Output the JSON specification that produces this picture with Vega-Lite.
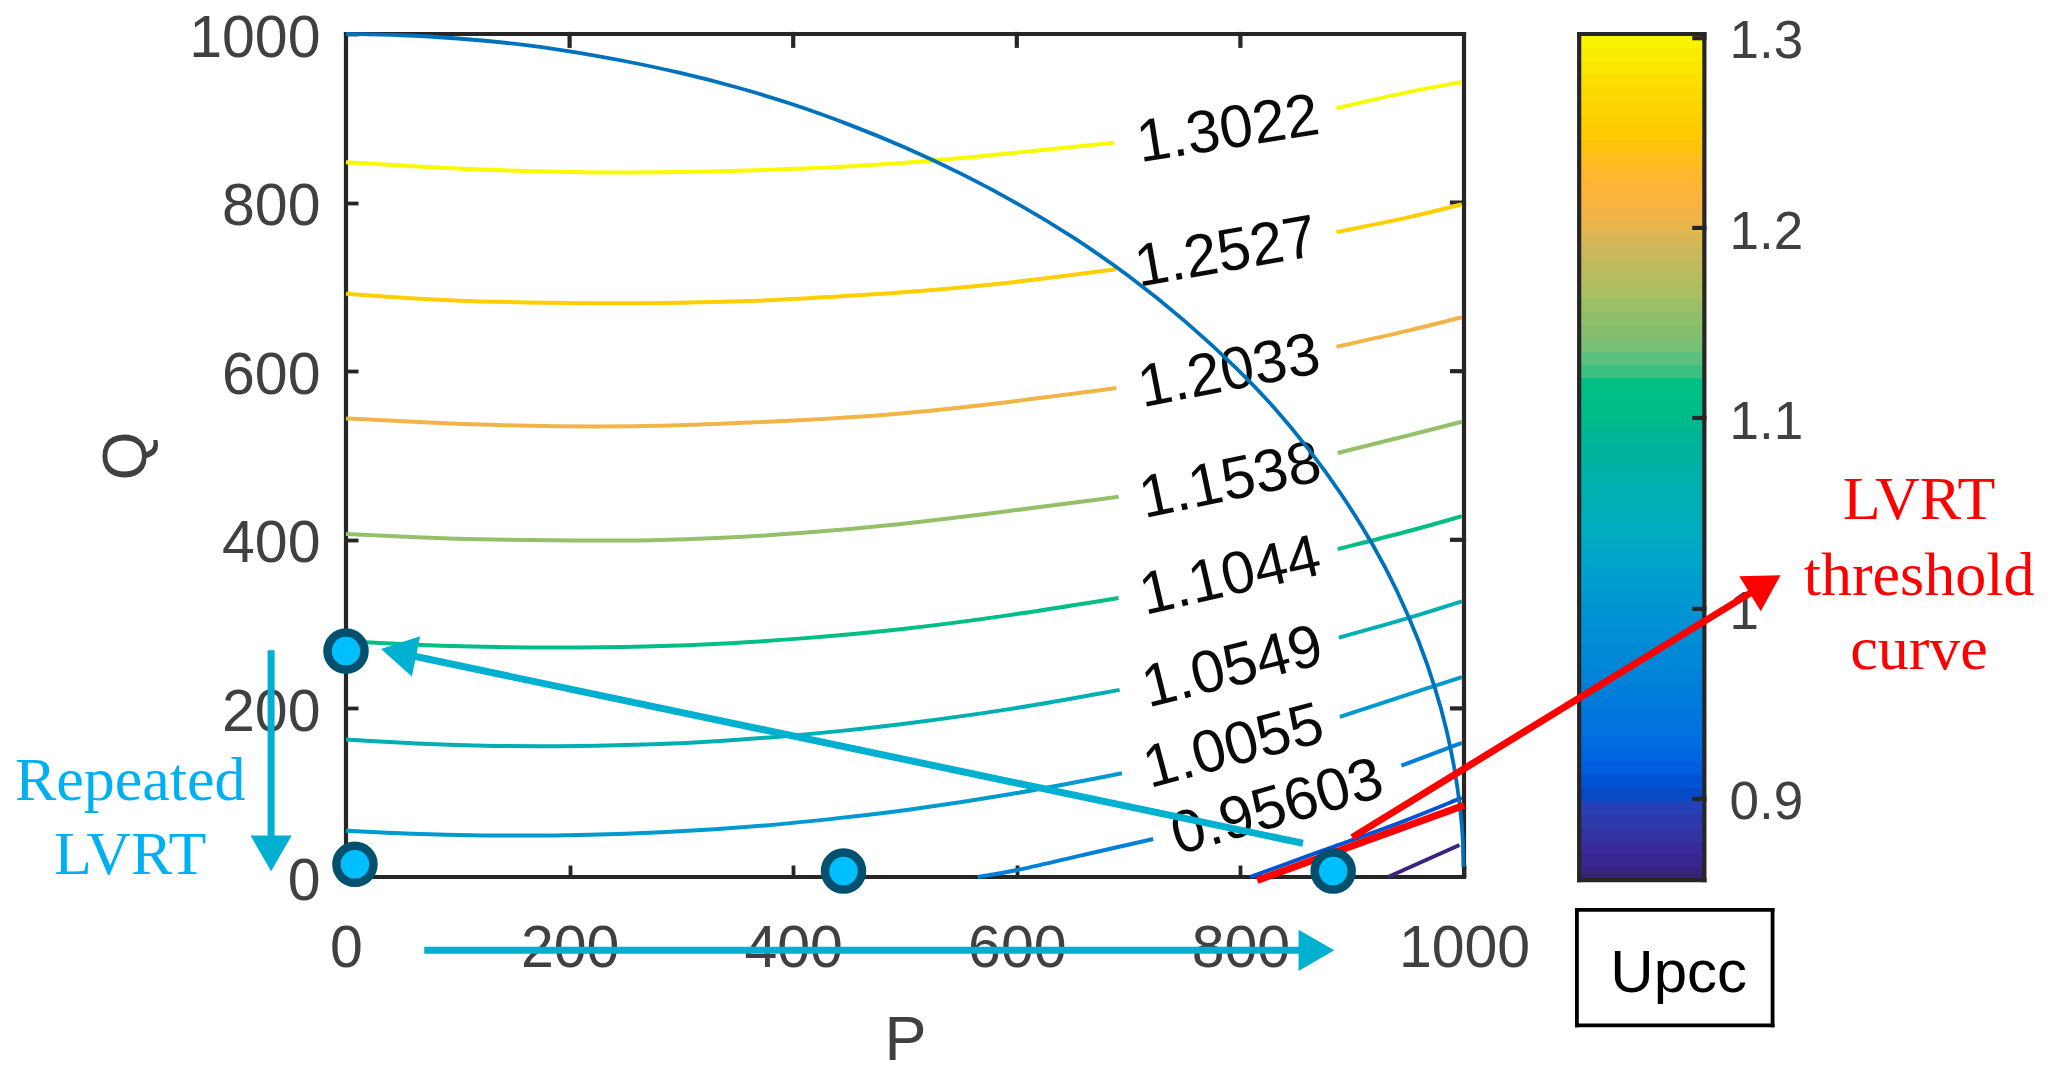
{
  "$schema": "https://vega.github.io/schema/vega-lite/v6.json",
  "width": 1118,
  "height": 843,
  "padding": {"left": 346, "top": 34, "right": 591, "bottom": 196},
  "autosize": {"type": "none"},
  "background": "white",
  "view": {"stroke": null},
  "config": {
    "font": "Liberation Sans",
    "axis": {"grid": false, "domain": false, "tickColor": "#262626", "tickWidth": 3.8, "labelColor": "#404040", "titleColor": "#404040", "titleFontWeight": "normal", "labelFont": "Liberation Sans", "titleFont": "Liberation Sans"}
  },
  "datasets": {
    "contours": [
      {"seg": "1.3022a", "level": 1.3022, "P": 0, "Q": 848}, {"seg": "1.3022a", "level": 1.3022, "P": 94, "Q": 840}, {"seg": "1.3022a", "level": 1.3022, "P": 218, "Q": 835}, {"seg": "1.3022a", "level": 1.3022, "P": 314, "Q": 836}, {"seg": "1.3022a", "level": 1.3022, "P": 410, "Q": 840}, {"seg": "1.3022a", "level": 1.3022, "P": 496, "Q": 846}, {"seg": "1.3022a", "level": 1.3022, "P": 593, "Q": 858}, {"seg": "1.3022a", "level": 1.3022, "P": 687, "Q": 871},
      {"seg": "1.3022b", "level": 1.3022, "P": 886, "Q": 912}, {"seg": "1.3022b", "level": 1.3022, "P": 951, "Q": 932}, {"seg": "1.3022b", "level": 1.3022, "P": 998, "Q": 943},
      {"seg": "1.2527a", "level": 1.2527, "P": 0, "Q": 692}, {"seg": "1.2527a", "level": 1.2527, "P": 90, "Q": 683}, {"seg": "1.2527a", "level": 1.2527, "P": 225, "Q": 680}, {"seg": "1.2527a", "level": 1.2527, "P": 298, "Q": 681}, {"seg": "1.2527a", "level": 1.2527, "P": 369, "Q": 683}, {"seg": "1.2527a", "level": 1.2527, "P": 432, "Q": 688}, {"seg": "1.2527a", "level": 1.2527, "P": 496, "Q": 693}, {"seg": "1.2527a", "level": 1.2527, "P": 593, "Q": 704}, {"seg": "1.2527a", "level": 1.2527, "P": 689, "Q": 721},
      {"seg": "1.2527b", "level": 1.2527, "P": 886, "Q": 765}, {"seg": "1.2527b", "level": 1.2527, "P": 951, "Q": 782}, {"seg": "1.2527b", "level": 1.2527, "P": 998, "Q": 798},
      {"seg": "1.2033a", "level": 1.2033, "P": 0, "Q": 544}, {"seg": "1.2033a", "level": 1.2033, "P": 73, "Q": 539}, {"seg": "1.2033a", "level": 1.2033, "P": 155, "Q": 535}, {"seg": "1.2033a", "level": 1.2033, "P": 225, "Q": 534}, {"seg": "1.2033a", "level": 1.2033, "P": 289, "Q": 535}, {"seg": "1.2033a", "level": 1.2033, "P": 362, "Q": 539}, {"seg": "1.2033a", "level": 1.2033, "P": 426, "Q": 543}, {"seg": "1.2033a", "level": 1.2033, "P": 496, "Q": 549}, {"seg": "1.2033a", "level": 1.2033, "P": 593, "Q": 563}, {"seg": "1.2033a", "level": 1.2033, "P": 689, "Q": 580},
      {"seg": "1.2033b", "level": 1.2033, "P": 886, "Q": 629}, {"seg": "1.2033b", "level": 1.2033, "P": 951, "Q": 648}, {"seg": "1.2033b", "level": 1.2033, "P": 998, "Q": 664},
      {"seg": "1.1538a", "level": 1.1538, "P": 0, "Q": 407}, {"seg": "1.1538a", "level": 1.1538, "P": 62, "Q": 403}, {"seg": "1.1538a", "level": 1.1538, "P": 132, "Q": 400}, {"seg": "1.1538a", "level": 1.1538, "P": 202, "Q": 399}, {"seg": "1.1538a", "level": 1.1538, "P": 275, "Q": 399}, {"seg": "1.1538a", "level": 1.1538, "P": 336, "Q": 402}, {"seg": "1.1538a", "level": 1.1538, "P": 401, "Q": 407}, {"seg": "1.1538a", "level": 1.1538, "P": 496, "Q": 418}, {"seg": "1.1538a", "level": 1.1538, "P": 593, "Q": 434}, {"seg": "1.1538a", "level": 1.1538, "P": 691, "Q": 451},
      {"seg": "1.1538b", "level": 1.1538, "P": 887, "Q": 503}, {"seg": "1.1538b", "level": 1.1538, "P": 951, "Q": 524}, {"seg": "1.1538b", "level": 1.1538, "P": 998, "Q": 540},
      {"seg": "1.1044a", "level": 1.1044, "P": 0, "Q": 280}, {"seg": "1.1044a", "level": 1.1044, "P": 20, "Q": 278}, {"seg": "1.1044a", "level": 1.1044, "P": 103, "Q": 273}, {"seg": "1.1044a", "level": 1.1044, "P": 186, "Q": 272}, {"seg": "1.1044a", "level": 1.1044, "P": 267, "Q": 273}, {"seg": "1.1044a", "level": 1.1044, "P": 346, "Q": 277}, {"seg": "1.1044a", "level": 1.1044, "P": 410, "Q": 283}, {"seg": "1.1044a", "level": 1.1044, "P": 496, "Q": 293}, {"seg": "1.1044a", "level": 1.1044, "P": 593, "Q": 310}, {"seg": "1.1044a", "level": 1.1044, "P": 691, "Q": 331},
      {"seg": "1.1044b", "level": 1.1044, "P": 887, "Q": 389}, {"seg": "1.1044b", "level": 1.1044, "P": 951, "Q": 410}, {"seg": "1.1044b", "level": 1.1044, "P": 998, "Q": 428},
      {"seg": "1.0549a", "level": 1.0549, "P": 0, "Q": 163}, {"seg": "1.0549a", "level": 1.0549, "P": 62, "Q": 158}, {"seg": "1.0549a", "level": 1.0549, "P": 132, "Q": 155}, {"seg": "1.0549a", "level": 1.0549, "P": 208, "Q": 155}, {"seg": "1.0549a", "level": 1.0549, "P": 275, "Q": 157}, {"seg": "1.0549a", "level": 1.0549, "P": 334, "Q": 161}, {"seg": "1.0549a", "level": 1.0549, "P": 394, "Q": 167}, {"seg": "1.0549a", "level": 1.0549, "P": 442, "Q": 173}, {"seg": "1.0549a", "level": 1.0549, "P": 496, "Q": 181}, {"seg": "1.0549a", "level": 1.0549, "P": 593, "Q": 198}, {"seg": "1.0549a", "level": 1.0549, "P": 692, "Q": 222},
      {"seg": "1.0549b", "level": 1.0549, "P": 888, "Q": 284}, {"seg": "1.0549b", "level": 1.0549, "P": 951, "Q": 307}, {"seg": "1.0549b", "level": 1.0549, "P": 998, "Q": 327},
      {"seg": "1.0055a", "level": 1.0055, "P": 0, "Q": 55}, {"seg": "1.0055a", "level": 1.0055, "P": 58, "Q": 51}, {"seg": "1.0055a", "level": 1.0055, "P": 123, "Q": 49}, {"seg": "1.0055a", "level": 1.0055, "P": 186, "Q": 49}, {"seg": "1.0055a", "level": 1.0055, "P": 250, "Q": 51}, {"seg": "1.0055a", "level": 1.0055, "P": 314, "Q": 55}, {"seg": "1.0055a", "level": 1.0055, "P": 378, "Q": 61}, {"seg": "1.0055a", "level": 1.0055, "P": 442, "Q": 70}, {"seg": "1.0055a", "level": 1.0055, "P": 496, "Q": 78}, {"seg": "1.0055a", "level": 1.0055, "P": 593, "Q": 97}, {"seg": "1.0055a", "level": 1.0055, "P": 694, "Q": 123},
      {"seg": "1.0055b", "level": 1.0055, "P": 889, "Q": 190}, {"seg": "1.0055b", "level": 1.0055, "P": 974, "Q": 227}, {"seg": "1.0055b", "level": 1.0055, "P": 998, "Q": 237},
      {"seg": "0.95603a", "level": 0.95603, "P": 565, "Q": 0}, {"seg": "0.95603a", "level": 0.95603, "P": 599, "Q": 7}, {"seg": "0.95603a", "level": 0.95603, "P": 658, "Q": 26}, {"seg": "0.95603a", "level": 0.95603, "P": 722, "Q": 45},
      {"seg": "0.95603b", "level": 0.95603, "P": 944, "Q": 132}, {"seg": "0.95603b", "level": 0.95603, "P": 998, "Q": 159},
      {"seg": "0.9066", "level": 0.9066, "P": 809, "Q": 0}, {"seg": "0.9066", "level": 0.9066, "P": 883, "Q": 36}, {"seg": "0.9066", "level": 0.9066, "P": 943, "Q": 64}, {"seg": "0.9066", "level": 0.9066, "P": 998, "Q": 94},
      {"seg": "0.857", "level": 0.857, "P": 932, "Q": 0}, {"seg": "0.857", "level": 0.857, "P": 996, "Q": 38}
    ],
    "labels": [
      {"label": "1.3022", "level": 1.3022, "P": 789, "Q": 886},
      {"label": "1.2527", "level": 1.2527, "P": 787, "Q": 740},
      {"label": "1.2033", "level": 1.2033, "P": 790, "Q": 599},
      {"label": "1.1538", "level": 1.1538, "P": 791, "Q": 469},
      {"label": "1.1044", "level": 1.1044, "P": 791, "Q": 356},
      {"label": "1.0549", "level": 1.0549, "P": 793, "Q": 248},
      {"label": "1.0055", "level": 1.0055, "P": 794, "Q": 154},
      {"label": "0.95603", "level": 0.95603, "P": 833, "Q": 82}
    ],
    "arc": [
      {"P": 0, "Q": 1000}, {"P": 50, "Q": 999}, {"P": 100, "Q": 995}, {"P": 150, "Q": 989}, {"P": 200, "Q": 980}, {"P": 250, "Q": 968}, {"P": 300, "Q": 954}, {"P": 350, "Q": 937}, {"P": 400, "Q": 917}, {"P": 450, "Q": 893}, {"P": 500, "Q": 866}, {"P": 550, "Q": 835}, {"P": 600, "Q": 800}, {"P": 650, "Q": 760}, {"P": 700, "Q": 714}, {"P": 750, "Q": 661}, {"P": 800, "Q": 600}, {"P": 830, "Q": 558}, {"P": 860, "Q": 510}, {"P": 890, "Q": 456}, {"P": 920, "Q": 392}, {"P": 940, "Q": 341}, {"P": 960, "Q": 280}, {"P": 975, "Q": 222}, {"P": 985, "Q": 173}, {"P": 992, "Q": 126}, {"P": 996, "Q": 89}, {"P": 998, "Q": 63}, {"P": 999, "Q": 45}, {"P": 999.5, "Q": 12}
    ],
    "bands": [
      {"lo": 0.8574, "hi": 0.8644}, {"lo": 0.8644, "hi": 0.8713}, {"lo": 0.8713, "hi": 0.8783}, {"lo": 0.8783, "hi": 0.8852}, {"lo": 0.8852, "hi": 0.8922}, {"lo": 0.8922, "hi": 0.8991}, {"lo": 0.8991, "hi": 0.9061}, {"lo": 0.9061, "hi": 0.913}, {"lo": 0.913, "hi": 0.92}, {"lo": 0.92, "hi": 0.9269}, {"lo": 0.9269, "hi": 0.9339}, {"lo": 0.9339, "hi": 0.9408}, {"lo": 0.9408, "hi": 0.9478}, {"lo": 0.9478, "hi": 0.9547}, {"lo": 0.9547, "hi": 0.9617}, {"lo": 0.9617, "hi": 0.9686}, {"lo": 0.9686, "hi": 0.9756}, {"lo": 0.9756, "hi": 0.9825}, {"lo": 0.9825, "hi": 0.9895}, {"lo": 0.9895, "hi": 0.9964}, {"lo": 0.9964, "hi": 1.0034}, {"lo": 1.0034, "hi": 1.0103}, {"lo": 1.0103, "hi": 1.0173}, {"lo": 1.0173, "hi": 1.0242}, {"lo": 1.0242, "hi": 1.0312}, {"lo": 1.0312, "hi": 1.0381}, {"lo": 1.0381, "hi": 1.0451}, {"lo": 1.0451, "hi": 1.052}, {"lo": 1.052, "hi": 1.059}, {"lo": 1.059, "hi": 1.0659}, {"lo": 1.0659, "hi": 1.0729}, {"lo": 1.0729, "hi": 1.0798}, {"lo": 1.0798, "hi": 1.0868}, {"lo": 1.0868, "hi": 1.0937}, {"lo": 1.0937, "hi": 1.1007}, {"lo": 1.1007, "hi": 1.1076}, {"lo": 1.1076, "hi": 1.1146}, {"lo": 1.1146, "hi": 1.1215}, {"lo": 1.1215, "hi": 1.1285}, {"lo": 1.1285, "hi": 1.1354}, {"lo": 1.1354, "hi": 1.1424}, {"lo": 1.1424, "hi": 1.1493}, {"lo": 1.1493, "hi": 1.1563}, {"lo": 1.1563, "hi": 1.1632}, {"lo": 1.1632, "hi": 1.1702}, {"lo": 1.1702, "hi": 1.1771}, {"lo": 1.1771, "hi": 1.1841}, {"lo": 1.1841, "hi": 1.191}, {"lo": 1.191, "hi": 1.198}, {"lo": 1.198, "hi": 1.2049}, {"lo": 1.2049, "hi": 1.2119}, {"lo": 1.2119, "hi": 1.2188}, {"lo": 1.2188, "hi": 1.2258}, {"lo": 1.2258, "hi": 1.2327}, {"lo": 1.2327, "hi": 1.2397}, {"lo": 1.2397, "hi": 1.2466}, {"lo": 1.2466, "hi": 1.2536}, {"lo": 1.2536, "hi": 1.2605}, {"lo": 1.2605, "hi": 1.2675}, {"lo": 1.2675, "hi": 1.2744}, {"lo": 1.2744, "hi": 1.2814}, {"lo": 1.2814, "hi": 1.2883}, {"lo": 1.2883, "hi": 1.2953}, {"lo": 1.2953, "hi": 1.3022}
    ]
  },
  "resolve": {"scale": {"y": "independent"}, "axis": {"y": "independent"}},
  "layer": [
    {
      "data": {"name": "bands"},
      "mark": {"type": "rect", "strokeWidth": 1.5},
      "encoding": {
        "x": {"datum": 1103, "type": "quantitative", "scale": {"domain": [0, 1000], "nice": false}},
        "x2": {"datum": 1215},
        "y": {"field": "lo", "type": "quantitative", "scale": {"domain": [0.859, 1.3021], "nice": false, "zero": false},
          "axis": {"orient": "right", "offset": 240, "values": [0.9, 1, 1.1, 1.2, 1.3], "title": null, "format": "~g", "ticks": false, "labelFontSize": 53, "labelPadding": 25, "labelOffset": 4}},
        "y2": {"field": "hi"},
        "color": {"field": "lo", "type": "quantitative", "legend": null, "scale": {"domain": [0.8574, 0.869, 0.883, 0.892, 0.897, 0.904, 0.914, 0.93, 0.956, 1, 1.018, 1.044, 1.079, 1.1, 1.116, 1.119, 1.127, 1.132, 1.14, 1.153, 1.166, 1.184, 1.2, 1.216, 1.237, 1.25, 1.272, 1.289, 1.3022], "range": ["#38237f", "#38289a", "#3038a8", "#2840b8", "#0848c0", "#0050d0", "#0060e0", "#0070e0", "#0080d8", "#0096d2", "#00a2cc", "#00aebb", "#00b09c", "#00bd88", "#00c082", "#30c082", "#4fc080", "#6fc078", "#82bf6e", "#93c06a", "#b2bd62", "#c9b85c", "#eeb44c", "#ffb23c", "#ffc010", "#ffcc00", "#fbdc00", "#f8ee00", "#f8fb00"]}},
        "stroke": {"field": "lo", "type": "quantitative", "legend": null, "scale": {"domain": [0.8574, 0.869, 0.883, 0.892, 0.897, 0.904, 0.914, 0.93, 0.956, 1, 1.018, 1.044, 1.079, 1.1, 1.116, 1.119, 1.127, 1.132, 1.14, 1.153, 1.166, 1.184, 1.2, 1.216, 1.237, 1.25, 1.272, 1.289, 1.3022], "range": ["#38237f", "#38289a", "#3038a8", "#2840b8", "#0848c0", "#0050d0", "#0060e0", "#0070e0", "#0080d8", "#0096d2", "#00a2cc", "#00aebb", "#00b09c", "#00bd88", "#00c082", "#30c082", "#4fc080", "#6fc078", "#82bf6e", "#93c06a", "#b2bd62", "#c9b85c", "#eeb44c", "#ffb23c", "#ffc010", "#ffcc00", "#fbdc00", "#f8ee00", "#f8fb00"]}}
      }
    },
    {
      "encoding": {
        "x": {"field": "P", "type": "quantitative", "scale": {"domain": [0, 1000], "nice": false},
          "axis": {"orient": "bottom", "values": [0, 200, 400, 600, 800, 1000], "format": "d", "title": "P", "tickSize": -12, "labelFontSize": 59, "titleFontSize": 63, "labelPadding": 54, "titlePadding": 31, "labelFlush": false}},
        "y": {"field": "Q", "type": "quantitative", "scale": {"domain": [0, 1000], "nice": false},
          "axis": {"orient": "left", "values": [0, 200, 400, 600, 800, 1000], "format": "d", "title": "Q", "tickSize": -12, "labelFontSize": 59, "titleFontSize": 63, "labelPadding": 38, "titlePadding": 30, "labelFlush": false, "labelOffset": 4}}
      },
      "layer": [
        {
          "data": {"values": [
            {"P": 0, "Q": 0, "P2": 1000, "Q2": 0}, {"P": 0, "Q": 1000, "P2": 1000, "Q2": 1000}, {"P": 0, "Q": 0, "P2": 0, "Q2": 1000}, {"P": 1000, "Q": 0, "P2": 1000, "Q2": 1000},
            {"P": 1103, "Q": -3.6, "P2": 1215, "Q2": -3.6}, {"P": 1103, "Q": 1000, "P2": 1215, "Q2": 1000}, {"P": 1103, "Q": -3.6, "P2": 1103, "Q2": 1000}, {"P": 1215, "Q": -3.6, "P2": 1215, "Q2": 1000},
            {"P": 1215, "Q": 995, "P2": 1206, "Q2": 995}, {"P": 1215, "Q": 770, "P2": 1206, "Q2": 770}, {"P": 1215, "Q": 544.5, "P2": 1206, "Q2": 544.5}, {"P": 1215, "Q": 318, "P2": 1206, "Q2": 318}, {"P": 1215, "Q": 92.5, "P2": 1206, "Q2": 92.5},
            {"P": 200, "Q": 1000, "P2": 200, "Q2": 986}, {"P": 400, "Q": 1000, "P2": 400, "Q2": 986}, {"P": 600, "Q": 1000, "P2": 600, "Q2": 986}, {"P": 800, "Q": 1000, "P2": 800, "Q2": 986},
            {"P": 1000, "Q": 200, "P2": 989.3, "Q2": 200}, {"P": 1000, "Q": 400, "P2": 989.3, "Q2": 400}, {"P": 1000, "Q": 600, "P2": 989.3, "Q2": 600}, {"P": 1000, "Q": 800, "P2": 989.3, "Q2": 800}
          ]},
          "mark": {"type": "rule", "color": "#262626", "strokeWidth": 4.2, "strokeCap": "square"},
          "encoding": {"x2": {"field": "P2"}, "y2": {"field": "Q2"}}
        },
        {
          "data": {"name": "contours"},
          "mark": {"type": "line", "strokeWidth": 4, "interpolate": "basis"},
          "encoding": {
            "detail": {"field": "seg"},
            "color": {"field": "level", "type": "quantitative", "legend": null}
          }
        },
        {
          "data": {"name": "labels"},
          "mark": {"type": "text", "fontSize": 60, "color": "#0a0a0a", "align": "center", "baseline": "middle"},
          "encoding": {
            "text": {"field": "label"},
            "angle": {"field": "level", "type": "quantitative", "legend": null, "scale": {"domain": [0.95603, 1.3022], "range": [344, 351]}}
          }
        },
        {
          "data": {"name": "arc"},
          "mark": {"type": "line", "color": "#0072bd", "strokeWidth": 3.8, "interpolate": "basis"}
        },
        {
          "data": {"values": [{"a": "h", "P": 70, "Q": -87}, {"a": "h", "P": 853, "Q": -87}, {"a": "v", "P": -67, "Q": 269}, {"a": "v", "P": -67, "Q": 44}, {"a": "d", "P": 856, "Q": 40}, {"a": "d", "P": 57, "Q": 263}]},
          "mark": {"type": "line", "color": "#00b0d0", "strokeWidth": 7},
          "encoding": {"detail": {"field": "a"}, "order": {"field": "P"}}
        },
        {
          "data": {"values": [{"P": 868, "Q": -87}]},
          "mark": {"type": "point", "shape": "triangle-up", "filled": true, "opacity": 1, "color": "#00b0d0", "size": 1700, "angle": 90}
        },
        {
          "data": {"values": [{"P": -67, "Q": 28}]},
          "mark": {"type": "point", "shape": "triangle-up", "filled": true, "opacity": 1, "color": "#00b0d0", "size": 1700, "angle": 180}
        },
        {
          "data": {"values": [{"P": 47, "Q": 266}]},
          "mark": {"type": "point", "shape": "triangle-up", "filled": true, "opacity": 1, "color": "#00b0d0", "size": 1700, "angle": 281.8}
        },
        {
          "data": {"values": [{"a": "t", "P": 815, "Q": -4}, {"a": "t", "P": 1000, "Q": 85}, {"a": "p", "P": 900, "Q": 47}, {"a": "p", "P": 1260, "Q": 340}]},
          "mark": {"type": "line", "color": "#ff0000", "strokeWidth": 7},
          "encoding": {"detail": {"field": "a"}}
        },
        {
          "data": {"values": [{"P": 1269.5, "Q": 347}]},
          "mark": {"type": "point", "shape": "triangle-up", "filled": true, "opacity": 1, "color": "#ff0000", "size": 1700, "angle": 58.7}
        },
        {
          "data": {"values": [{"P": 0, "Q": 268}, {"P": 8, "Q": 15}, {"P": 445, "Q": 7}, {"P": 883, "Q": 7}]},
          "mark": {"type": "point", "filled": true, "opacity": 1, "shape": "circle", "fill": "#00bfff", "stroke": "#00506e", "strokeWidth": 8.5, "size": 1369}
        },
        {
          "data": {"values": [{"t": "Repeated", "P": -193, "Q": 91}, {"t": "LVRT", "P": -193, "Q": 3}]},
          "mark": {"type": "text", "font": "Liberation Serif", "fontSize": 62, "color": "#00b0f0", "align": "center", "baseline": "alphabetic"},
          "encoding": {"text": {"field": "t"}}
        },
        {
          "data": {"values": [{"t": "LVRT", "P": 1407, "Q": 425}, {"t": "threshold", "P": 1407, "Q": 334.5}, {"t": "curve", "P": 1407, "Q": 247}]},
          "mark": {"type": "text", "font": "Liberation Serif", "fontSize": 62, "color": "#ff0000", "align": "center", "baseline": "alphabetic"},
          "encoding": {"text": {"field": "t"}}
        },
        {
          "data": {"values": [
            {"P": 1101, "Q": -39, "P2": 1276, "Q2": -39}, {"P": 1101, "Q": -176, "P2": 1276, "Q2": -176}, {"P": 1101, "Q": -39, "P2": 1101, "Q2": -176}, {"P": 1276, "Q": -39, "P2": 1276, "Q2": -176}
          ]},
          "mark": {"type": "rule", "color": "#000000", "strokeWidth": 3.8, "strokeCap": "square"},
          "encoding": {"x2": {"field": "P2"}, "y2": {"field": "Q2"}}
        },
        {
          "data": {"values": [{"t": "Upcc", "P": 1192, "Q": -137}]},
          "mark": {"type": "text", "fontSize": 60, "color": "#000000", "align": "center", "baseline": "alphabetic"},
          "encoding": {"text": {"field": "t"}}
        }
      ]
    }
  ]
}
